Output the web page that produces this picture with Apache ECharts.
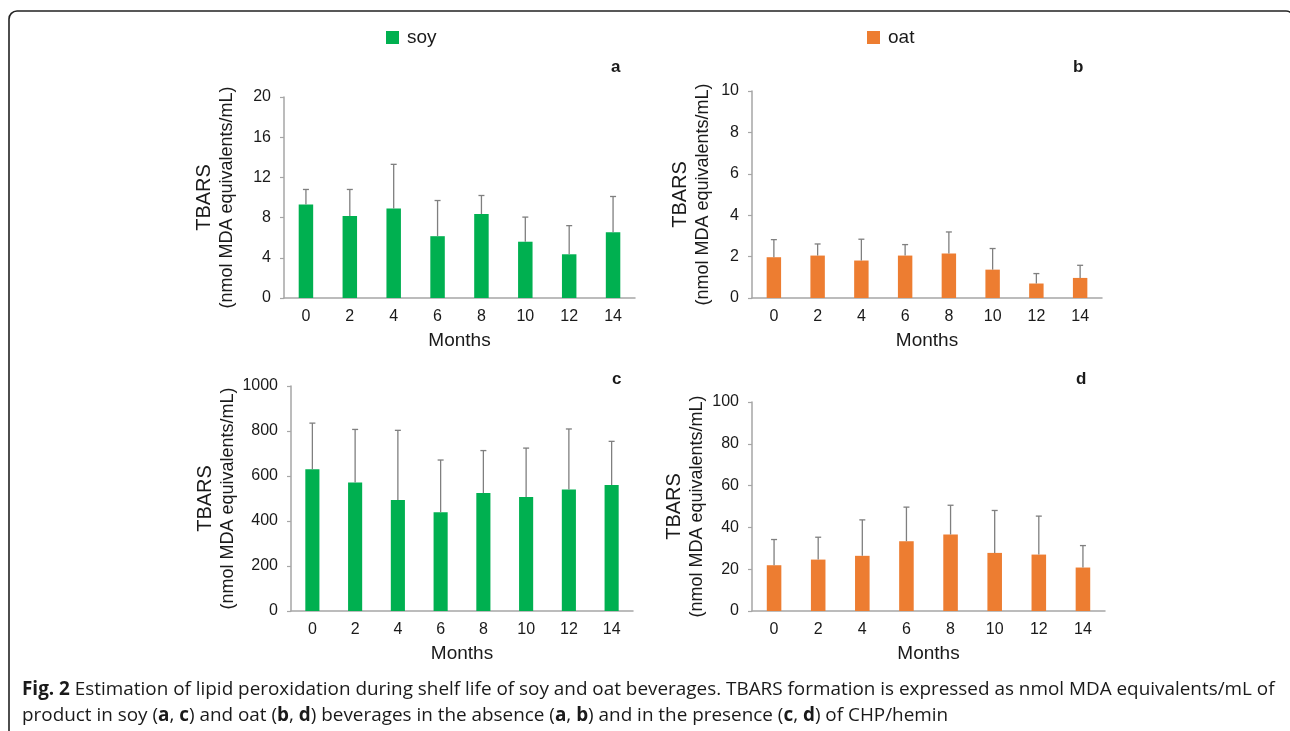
<!DOCTYPE html>
<html>
<head>
<meta charset="utf-8">
<script src="https://cdn.jsdelivr.net/npm/echarts@6/dist/echarts.min.js"></script>
<style>
  html, body { margin: 0; padding: 0; background: #fff; }
  #chart { width: 1290px; height: 731px; }
</style>
</head>
<body>
<div id="chart"></div>
<script>
// Storage months
const months = ['0', '2', '4', '6', '8', '10', '12', '14'];

// (a) soy, without CHP/hemin
const soyPlainMean = [9.3, 8.15, 8.9, 6.15, 8.35, 5.6, 4.35, 6.55];
const soyPlainSd   = [1.5, 2.65, 4.4, 3.55, 1.85, 2.45, 2.85, 3.55];

// (b) oat, without CHP/hemin
const oatPlainMean = [1.97, 2.05, 1.81, 2.05, 2.15, 1.37, 0.70, 0.97];
const oatPlainSd   = [0.85, 0.56, 1.03, 0.53, 1.04, 1.02, 0.48, 0.61];

// (c) soy, with CHP/hemin
const soyCHPMean = [630, 571, 493, 439, 524, 507, 540, 560];
const soyCHPSd   = [205, 236, 310, 232, 189, 217, 269, 194];

// (d) oat, with CHP/hemin
const oatCHPMean = [21.9, 24.6, 26.4, 33.4, 36.6, 27.8, 27.0, 20.8];
const oatCHPSd   = [12.3, 10.7, 17.2, 16.3, 14.0, 20.3, 18.4, 10.5];

// Axis ranges: [max, interval]
const yScales = [[20, 4], [10, 2], [1000, 200], [100, 20]];
const panelLetters = ['a', 'b', 'c', 'd'];

const GREEN = '#00b050';
const ORANGE = '#ed7d31';
const AXIS_GRAY = '#a6a6a6';
const ERR_GRAY = '#7f7f7f';
const TEXT = '#1a1a1a';
const FONT = '"Liberation Sans", Arial, Helvetica, sans-serif';

const grids = [
  { left: 284, top: 97,  width: 351, height: 201 },
  { left: 752, top: 91,  width: 350, height: 207 },
  { left: 291, top: 386, width: 342, height: 225 },
  { left: 752, top: 402, width: 353, height: 209 }
];

const panels = [
  { name: 'soy', color: GREEN,  mean: soyPlainMean, sd: soyPlainSd },
  { name: 'oat', color: ORANGE, mean: oatPlainMean, sd: oatPlainSd },
  { name: 'soy', color: GREEN,  mean: soyCHPMean,   sd: soyCHPSd },
  { name: 'oat', color: ORANGE, mean: oatCHPMean,   sd: oatCHPSd }
];

const nameGaps = [46, 38, 52, 44];

const xAxes = grids.map((g, i) => ({
  type: 'category',
  gridIndex: i,
  data: months,
  axisLine: { lineStyle: { color: AXIS_GRAY, width: 1.5 } },
  axisTick: { show: false },
  axisLabel: { color: TEXT, fontSize: 16, fontFamily: FONT, margin: 11 },
  name: 'Months',
  nameLocation: 'middle',
  nameGap: 33,
  nameTextStyle: { color: TEXT, fontSize: 19, fontFamily: FONT }
}));

const yAxes = grids.map((g, i) => ({
  type: 'value',
  gridIndex: i,
  min: 0,
  max: yScales[i][0],
  interval: yScales[i][1],
  splitLine: { show: false },
  axisLine: { show: true, lineStyle: { color: AXIS_GRAY, width: 1.5 } },
  axisTick: { show: true, length: 4, lineStyle: { color: AXIS_GRAY, width: 1.2 } },
  axisLabel: {
    color: TEXT, fontSize: 16, fontFamily: FONT, margin: 13,
    formatter: v => String(v)
  },
  name: '{t|TBARS}\n{u|(nmol MDA equivalents/mL)}',
  nameLocation: 'middle',
  nameRotate: 90,
  nameGap: nameGaps[i],
  nameTextStyle: {
    color: TEXT,
    fontFamily: FONT,
    rich: {
      t: { fontSize: 20, lineHeight: 24, fontFamily: FONT, color: TEXT },
      u: { fontSize: 18, lineHeight: 22, fontFamily: FONT, color: TEXT }
    }
  }
}));

const series = [];
panels.forEach((p, i) => {
  series.push({
    type: 'bar',
    name: p.name,
    xAxisIndex: i,
    yAxisIndex: i,
    barWidth: '33%',
    itemStyle: { color: p.color },
    data: p.mean,
    z: 2
  });
  // Upper standard-deviation whiskers with a short cap
  series.push({
    type: 'custom',
    name: p.name + ' SD',
    xAxisIndex: i,
    yAxisIndex: i,
    z: 3,
    data: p.mean.map((m, k) => [k, m, m + p.sd[k]]),
    renderItem: function (params, api) {
      const base = api.coord([api.value(0), api.value(1)]);
      const top = api.coord([api.value(0), api.value(2)]);
      const half = 3;
      const style = { stroke: ERR_GRAY, lineWidth: 1.3 };
      return {
        type: 'group',
        children: [
          { type: 'line', shape: { x1: base[0], y1: base[1], x2: top[0], y2: top[1] }, style: style },
          { type: 'line', shape: { x1: top[0] - half, y1: top[1], x2: top[0] + half, y2: top[1] }, style: style }
        ]
      };
    }
  });
});

const letterPos = [
  { left: 611, top: 59 },
  { left: 1073, top: 59 },
  { left: 612, top: 371 },
  { left: 1076, top: 371 }
];

const titles = panelLetters.map((l, i) => ({
  text: l,
  left: letterPos[i].left,
  top: letterPos[i].top,
  padding: 0,
  textStyle: { fontSize: 17, fontWeight: 'bold', color: TEXT, fontFamily: FONT }
}));

const CAP_FONT = '"Open Sans", "Noto Sans", sans-serif';
const CAP_SIZE = 18.9;
titles.push({
  text: '{b|Fig. 2} Estimation of lipid peroxidation during shelf life of soy and oat beverages. TBARS formation is expressed as nmol MDA equivalents/mL of\n' +
        'product in soy ({b|a}, {b|c}) and oat ({b|b}, {b|d}) beverages in the absence ({b|a}, {b|b}) and in the presence ({b|c}, {b|d}) of CHP/hemin',
  left: 22,
  top: 677,
  padding: 0,
  textStyle: {
    fontSize: CAP_SIZE,
    fontWeight: 'normal',
    color: TEXT,
    fontFamily: CAP_FONT,
    lineHeight: 26,
    rich: {
      b: { fontSize: CAP_SIZE, fontWeight: 'bold', color: TEXT, fontFamily: CAP_FONT, lineHeight: 26 }
    }
  }
});

const legendCommon = {
  orient: 'horizontal',
  icon: 'rect',
  itemWidth: 13,
  itemHeight: 13,
  padding: 0,
  selectedMode: false,
  textStyle: { fontSize: 19, color: TEXT, fontFamily: FONT, padding: [0, 0, 0, 3] }
};

const option = {
  backgroundColor: '#fff',
  animation: false,
  title: titles,
  legend: [
    Object.assign({}, legendCommon, { data: ['soy'], left: 386, top: 28 }),
    Object.assign({}, legendCommon, { data: ['oat'], left: 867, top: 28 })
  ],
  grid: grids,
  xAxis: xAxes,
  yAxis: yAxes,
  series: series,
  graphic: [{
    type: 'rect',
    shape: { x: 9, y: 11, width: 1285, height: 740, r: 8 },
    style: { fill: 'none', stroke: '#222', lineWidth: 1.6 },
    silent: true,
    z: -1
  }]
};

const chart = echarts.init(document.getElementById('chart'), null, { renderer: 'canvas' });
chart.setOption(option);
</script>
</body>
</html>
